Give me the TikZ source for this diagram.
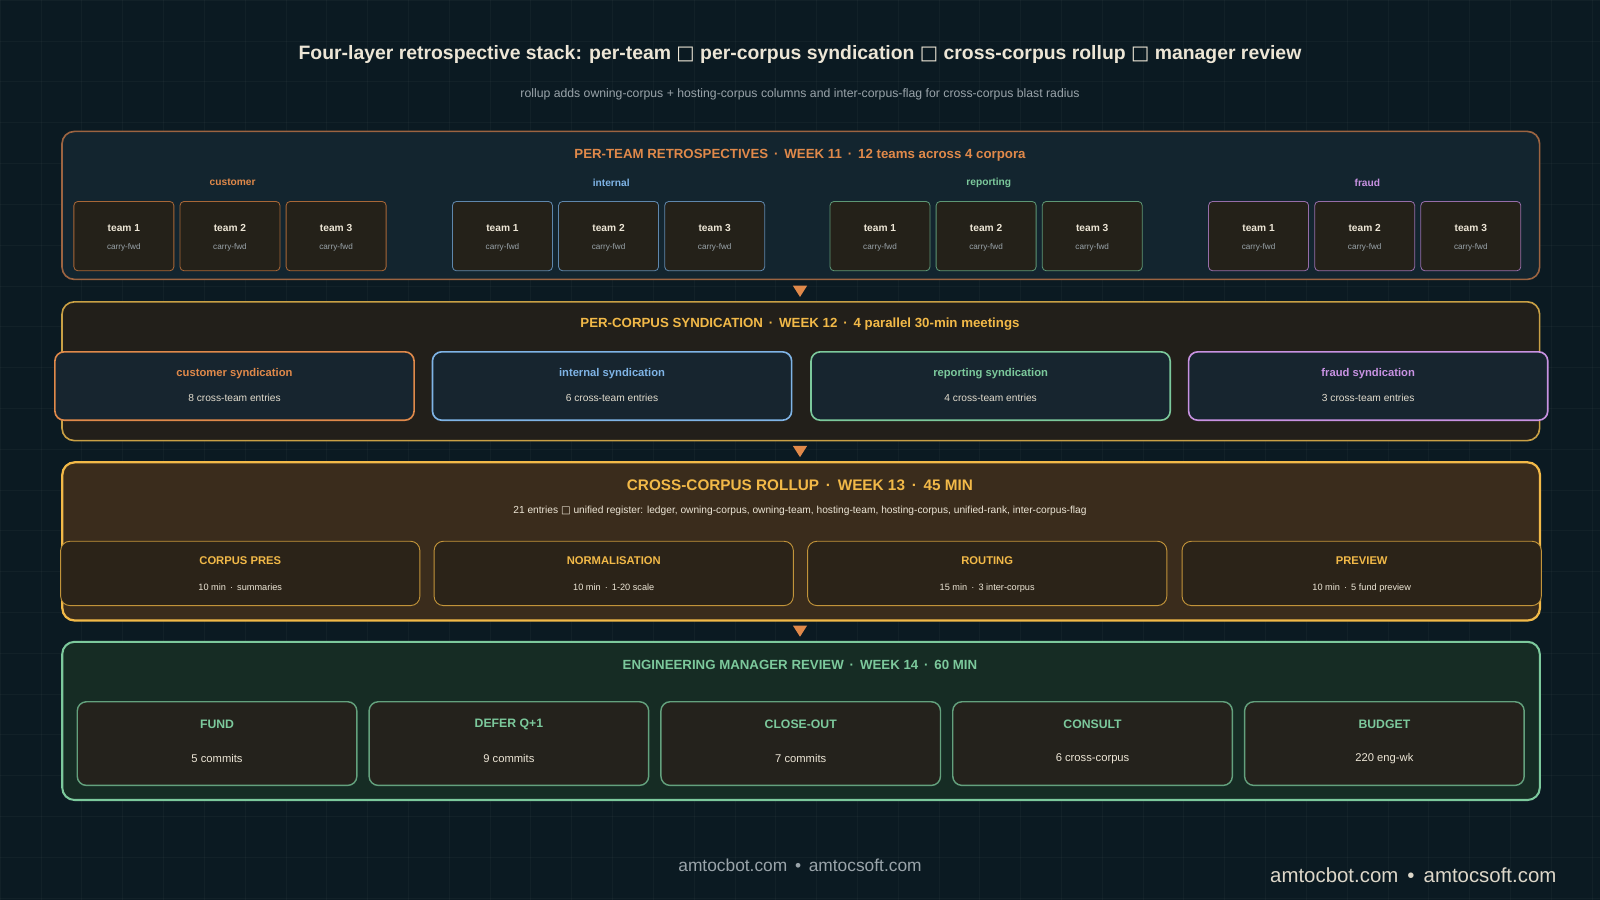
\documentclass[tikz,border=0pt]{standalone}
\usepackage{fontspec}
\setmainfont{Liberation Sans}
\newfontfamily\symf{DejaVu Sans}
\definecolor{bg}{HTML}{0B1A22}
\definecolor{cOr}{HTML}{E0894A}
\definecolor{cBl}{HTML}{7FB4E6}
\definecolor{cGr}{HTML}{7CC99C}
\definecolor{cPu}{HTML}{C892E2}
\definecolor{cGo}{HTML}{F2B948}
\definecolor{txtw}{HTML}{EDE6D6}
\definecolor{txtg}{HTML}{9AA4AA}
\definecolor{teamfill}{HTML}{242119}
\definecolor{synfill}{HTML}{17252F}
\definecolor{rbfill}{HTML}{2B2318}
\definecolor{mbfill}{HTML}{24221C}
\definecolor{l1d}{HTML}{9C6441}
\definecolor{l1f}{HTML}{13252F}
\definecolor{l2d}{HTML}{C9A045}
\definecolor{l2f}{HTML}{221F1A}
\definecolor{l3f}{HTML}{3A2C1C}
\definecolor{l4f}{HTML}{162C24}
\newcommand{\fs}[1]{\fontsize{#1}{#1}\selectfont}
\newcommand{\bx}{{\symf\char"25A1}}
\begin{document}
\begin{tikzpicture}[x=1pt,y=-1pt,
  layer/.style={draw, rounded corners=12, line width=1.6},
  team/.style={draw, line width=0.8, fill=teamfill, rounded corners=4},
  syn/.style={draw, rounded corners=9, line width=1.6, fill=synfill},
  rb/.style={draw=cGo!80!black, rounded corners=9, line width=0.9, fill=rbfill},
  mb/.style={draw=cGr!80!black, rounded corners=9, line width=1.4, fill=mbfill},
  lt/.style={font=\bfseries\fs{13}},
]
\useasboundingbox (0,0) rectangle (1568,882);
\fill[bg] (0,0) rectangle (1568,882);
\foreach \i in {0,40,...,1560} \draw[white,opacity=0.03] (\i,0) -- (\i,882);
\foreach \i in {0,40,...,880} \draw[white,opacity=0.03] (0,\i) -- (1568,\i);

\node[txtw,font=\bfseries\fs{19}] (title) at (784,53) {Four-layer retrospective stack: per-team \bx{} per-corpus syndication \bx{} cross-corpus rollup \bx{} manager review};
\node[txtg,font=\fs{12}] (sub) at (784,92) {rollup adds owning-corpus + hosting-corpus columns and inter-corpus-flag for cross-corpus blast radius};

% Layer 1
\node[layer, draw=l1d, fill=l1f, minimum width=1448, minimum height=145, anchor=north west] (L1) at (60,128) {};
\node[cOr,lt] (L1t) at (784,152) {PER-TEAM RETROSPECTIVES \,·\, WEEK 11 \,·\, 12 teams across 4 corpora};
\foreach \name/\col/\xs in {customer/cOr/72, internal/cBl/443, reporting/cGr/813, fraud/cPu/1184}{
  \node[\col,font=\bfseries\fs{10}] (g\name) at (\xs+156,179) {\name};
  \foreach \k in {1,2,3}{
    \node[team, draw=\col!75!black, minimum width=98, minimum height=68, anchor=north west] (t\name\k) at (\xs+104*\k-104,197) {};
    \node[txtw,font=\bfseries\fs{10}] at ([yshift=8]t\name\k.center) {team \k};
    \node[txtg,font=\fs{8}] at ([yshift=-11]t\name\k.center) {carry-fwd};
  }
}

% Layer 2
\node[layer, draw=l2d, fill=l2f, minimum width=1448, minimum height=136, anchor=north west] (L2) at (60,295) {};
\node[cGo,lt] (L2t) at (784,318) {PER-CORPUS SYNDICATION \,·\, WEEK 12 \,·\, 4 parallel 30-min meetings};
\foreach \name/\col/\xs/\n in {customer/cOr/53/8, internal/cBl/423/6, reporting/cGr/794/4, fraud/cPu/1164/3}{
  \node[syn, draw=\col, minimum width=352, minimum height=67, anchor=north west] (s\name) at (\xs,344) {};
  \node[\col,font=\bfseries\fs{11}] at ([yshift=12]s\name.center) {\name{} syndication};
  \node[txtw!90!gray,font=\fs{10}] at ([yshift=-12]s\name.center) {\n{} cross-team entries};
}

% Layer 3
\node[layer, draw=cGo, line width=2.2, fill=l3f, minimum width=1448, minimum height=155, anchor=north west] (L3) at (60,452) {};
\node[cGo,font=\bfseries\fs{15}] (L3t) at (784,476) {CROSS-CORPUS ROLLUP \,·\, WEEK 13 \,·\, 45 MIN};
\node[txtw,font=\fs{10}] (L3s) at (784,501) {21 entries \bx{} unified register: ledger, owning-corpus, owning-team, hosting-team, hosting-corpus, unified-rank, inter-corpus-flag};
\foreach \nm/\t/\s/\xs in {r1/CORPUS PRES/{10 min \,·\, summaries}/59, r2/NORMALISATION/{10 min \,·\, 1-20 scale}/425, r3/ROUTING/{15 min \,·\, 3 inter-corpus}/791, r4/PREVIEW/{10 min \,·\, 5 fund preview}/1158}{
  \node[rb, minimum width=352, minimum height=63, anchor=north west] (\nm) at (\xs,530) {};
  \node[cGo,font=\bfseries\fs{11}] at ([yshift=13]\nm.center) {\t};
  \node[txtw,font=\fs{9}] at ([yshift=-14]\nm.center) {\s};
}

% Layer 4
\node[layer, draw=cGr, line width=2, fill=l4f, minimum width=1448, minimum height=155, anchor=north west] (L4) at (60,628) {};
\node[cGr,lt] (L4t) at (784,652) {ENGINEERING MANAGER REVIEW \,·\, WEEK 14 \,·\, 60 MIN};
\foreach \nm/\t/\s/\xs in {m1/FUND/5 commits/75, m2/DEFER Q+1/9 commits/361, m3/CLOSE-OUT/7 commits/647, m4/CONSULT/6 cross-corpus/933, m5/BUDGET/220 eng-wk/1219}{
  \node[mb, minimum width=274, minimum height=82, anchor=north west] (\nm) at (\xs,687) {};
  \node[cGr,font=\bfseries\fs{12}] at ([yshift=19]\nm.center) {\t};
  \node[txtw,font=\fs{11}] at ([yshift=-15]\nm.center) {\s};
}

% arrows
\coordinate (a1) at (784,280); \coordinate (a2) at (784,437); \coordinate (a3) at (784,613);
\foreach \a in {a1,a2,a3} \fill[cOr] ([xshift=-7]\a) -- ([xshift=7]\a) -- ([yshift=-11]\a) -- cycle;

\node[txtg,font=\fs{17}] (f1) at (784,848) {amtocbot.com \,•\, amtocsoft.com};
\node[txtw!85!gray,font=\fs{20}] (f2) at (1385,858) {amtocbot.com \,•\, amtocsoft.com};
\end{tikzpicture}
\end{document}
